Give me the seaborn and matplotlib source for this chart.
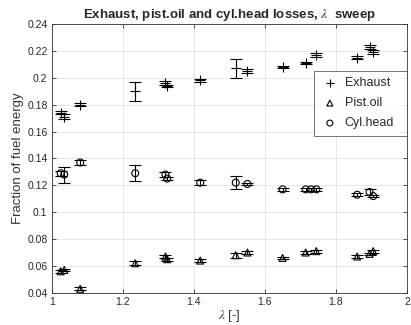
import numpy as np
import pandas as pd
import matplotlib
matplotlib.use('Agg')
import matplotlib.pyplot as plt
import seaborn as sns

# Exhaust
lam_exh = [1.025, 1.035, 1.08, 1.235, 1.32, 1.325, 1.418, 1.518, 1.551, 1.65, 1.715, 1.745, 1.86, 1.895, 1.905]
exh = [0.174, 0.171, 0.180, 0.190, 0.196, 0.194, 0.198, 0.207, 0.205, 0.208, 0.211, 0.217, 0.215, 0.223, 0.219]
exh_err = [0.001, 0.002, 0.001, 0.007, 0.0015, 0.001, 0.001, 0.007, 0.0015, 0.001, 0.001, 0.0015, 0.001, 0.0015, 0.0015]

# Pist.oil
lam_oil = [1.025, 1.035, 1.08, 1.235, 1.32, 1.325, 1.418, 1.518, 1.551, 1.65, 1.715, 1.745, 1.86, 1.895, 1.905]
oil = [0.056, 0.057, 0.043, 0.062, 0.067, 0.065, 0.064, 0.068, 0.070, 0.066, 0.070, 0.071, 0.067, 0.069, 0.071]
oil_err = [0.001, 0.001, 0.001, 0.0015, 0.001, 0.001, 0.001, 0.002, 0.001, 0.001, 0.001, 0.001, 0.001, 0.001, 0.001]

# Cyl.head
lam_cyl = [1.025, 1.035, 1.08, 1.235, 1.32, 1.325, 1.418, 1.518, 1.551, 1.65, 1.715, 1.73, 1.745, 1.86, 1.895, 1.905]
cyl = [0.129, 0.128, 0.137, 0.129, 0.128, 0.125, 0.122, 0.122, 0.121, 0.117, 0.117, 0.117, 0.117, 0.113, 0.115, 0.112]
cyl_err = [0.002, 0.006, 0.002, 0.006, 0.002, 0.001, 0.002, 0.005, 0.001, 0.001, 0.001, 0.001, 0.001, 0.001, 0.002, 0.001]

x_ticks = [1, 1.2, 1.4, 1.6, 1.8, 2]
x_labels = ['1', '1.2', '1.4', '1.6', '1.8', '2']
y_ticks = [0.04, 0.06, 0.08, 0.1, 0.12, 0.14, 0.16, 0.18, 0.2, 0.22, 0.24]
y_labels = ['0.04', '0.06', '0.08', '0.1', '0.12', '0.14', '0.16', '0.18', '0.2', '0.22', '0.24']

sns.set_style('ticks')
plt.rcParams['font.family'] = ['Liberation Sans', 'DejaVu Sans']
plt.rcParams['mathtext.fontset'] = 'stix'

fig = plt.figure(figsize=(4.11, 3.25), dpi=100)
ax = fig.add_axes([0.126, 0.099, 0.864, 0.827])

series = [
    ('Exhaust', lam_exh, exh, exh_err, '+', 7),
    ('Pist.oil', lam_oil, oil, oil_err, '^', 5),
    ('Cyl.head', lam_cyl, cyl, cyl_err, 'o', 5),
]
for name, lam, val, err, mk, ms in series:
    df = pd.DataFrame({'lam': lam, 'val': val})
    ax.errorbar(lam, val, yerr=err, fmt='none', ecolor='black', elinewidth=0.8, capsize=4.5, capthick=0.8, zorder=2)
    if mk == '+':
        sns.scatterplot(data=df, x='lam', y='val', ax=ax, marker='+', s=ms ** 2, color='black', linewidth=0.8, label=name, zorder=3)
    else:
        sns.scatterplot(data=df, x='lam', y='val', ax=ax, marker=mk, s=ms ** 2, facecolor='none', edgecolor='black', linewidth=0.8, label=name, zorder=3)

ax.set_xlim(1, 2)
ax.set_ylim(0.04, 0.24)
ax.set_xticks(x_ticks)
ax.set_xticklabels(x_labels)
ax.set_yticks(y_ticks)
ax.set_yticklabels(y_labels)
ax.grid(True, color='#e3e3e3', linewidth=0.6)
ax.set_axisbelow(True)
ax.tick_params(direction='in', length=3, width=0.6, labelsize=7.5, top=True, right=True, color='#333333', pad=3)
for sp in ax.spines.values():
    sp.set_linewidth(0.6)
    sp.set_color('#333333')

ax.set_xlabel(r'$\lambda$ [-]', fontsize=9.5, color='#333333', labelpad=1)
ax.set_ylabel('Fraction of fuel energy', fontsize=9.5, color='#333333', labelpad=2)
ax.set_title(r'Exhaust, pist.oil and cyl.head losses, $\lambda$  sweep', fontsize=9.5, fontweight='bold', pad=4)

# legend box spans x 314..407 px, top at 71 px
leg = ax.legend(loc='upper left', bbox_to_anchor=(0.738, 0.525, 0.261, 0.3), mode='expand', borderaxespad=0,
                fontsize=9, frameon=True, fancybox=False, edgecolor='#333333',
                handlelength=1.56, handletextpad=0.42, borderpad=0.5, labelspacing=0.64, markerscale=0.85)
leg.get_frame().set_linewidth(0.6)

fig.savefig('out.png', dpi=100)
